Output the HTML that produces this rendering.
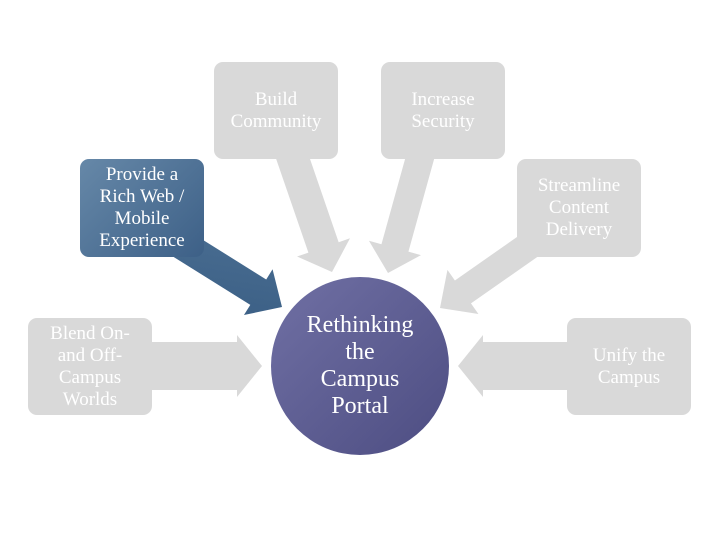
<!DOCTYPE html>
<html><head><meta charset="utf-8"><style>
html,body{margin:0;padding:0;background:#fff;}
.wrap{position:relative;width:720px;height:540px;overflow:hidden;}
.box{position:absolute;width:124px;height:97px;border-radius:9px;background:#d9d9d9;color:#fff;font-family:"Liberation Serif",serif;font-size:19px;line-height:22px;text-align:center;display:flex;align-items:center;justify-content:center;}
.blue{background:linear-gradient(135deg,#6688a8,#3d6087);}
.circ{position:absolute;left:271px;top:277px;width:178px;height:178px;border-radius:50%;background:linear-gradient(135deg,#7070a4,#4d4d82);color:#fff;font-family:"Liberation Serif",serif;font-size:24px;line-height:27px;text-align:center;display:flex;align-items:center;justify-content:center;}
svg{position:absolute;left:0;top:0;}
</style></head><body><div class="wrap">
<svg width="720" height="540">
<defs><linearGradient id="bg" x1="0" y1="0" x2="1" y2="1"><stop offset="0" stop-color="#4a6e92"/><stop offset="1" stop-color="#3b5f85"/></linearGradient></defs>
<!-- arrow shape pointing right, tip at origin -->
<g fill="#d9d9d9">
<polygon transform="translate(262,366)" points="-112,-24 -25,-24 -25,-31 0,0 -25,31 -25,24 -112,24"/>
<polygon transform="translate(458,366) rotate(180)" points="-112,-24 -25,-24 -25,-31 0,0 -25,31 -25,24 -112,24"/>
<polygon transform="translate(332,272) rotate(71)" points="-125,-16 -26,-16 -26,-28 0,0 -26,28 -26,16 -125,16"/>
<polygon transform="translate(388,273) rotate(105.5)" points="-125,-14 -26,-14 -26,-27 0,0 -26,27 -26,14 -125,14"/>
<polygon transform="translate(440,308) rotate(145)" points="-115,-14 -28,-14 -28,-27 0,0 -28,27 -28,14 -115,14"/>
</g>
<polygon fill="url(#bg)" transform="translate(282,307) rotate(32)" points="-130,-15 -28,-15 -28,-27 0,0 -28,27 -28,15 -130,15"/>
</svg>
<div class="box" style="left:214px;top:62px;">Build<br>Community</div>
<div class="box" style="left:381px;top:62px;">Increase<br>Security</div>
<div class="box" style="left:517px;top:159px;height:98px;">Streamline<br>Content<br>Delivery</div>
<div class="box" style="left:567px;top:318px;">Unify the<br>Campus</div>
<div class="box" style="left:28px;top:318px;">Blend On-<br>and Off-<br>Campus<br>Worlds</div>
<div class="box blue" style="left:80px;top:159px;height:98px;">Provide a<br>Rich Web /<br>Mobile<br>Experience</div>
<div class="circ">Rethinking<br>the<br>Campus<br>Portal</div>
</div></body></html>
